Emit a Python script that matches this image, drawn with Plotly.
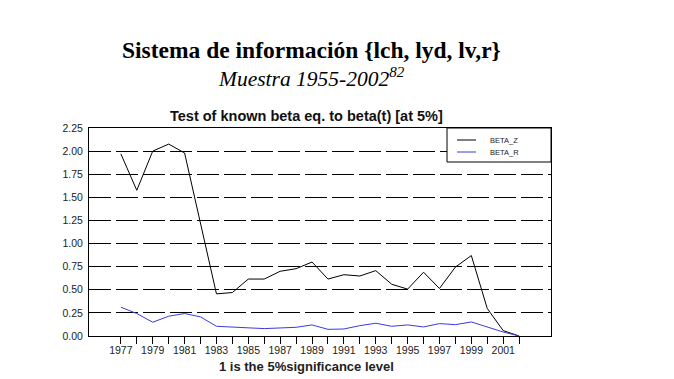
import plotly.graph_objects as go

years = list(range(1977, 2003))
beta_z = [1.97, 1.576, 2.00, 2.076, 1.98, 1.23, 0.456, 0.47, 0.616, 0.616, 0.70, 0.728, 0.80,
          0.616, 0.663, 0.649, 0.707, 0.56, 0.507, 0.69, 0.514, 0.746, 0.87, 0.297, 0.058, 0.0]
beta_r = [0.312, 0.243, 0.149, 0.214, 0.243, 0.207, 0.105, 0.094, 0.083, 0.080, 0.087, 0.094, 0.120,
          0.072, 0.076, 0.112, 0.138, 0.105, 0.120, 0.098, 0.134, 0.123, 0.152, 0.098, 0.043, 0.0]
x_ticklabels = [str(y) if y % 2 == 1 else "" for y in years]
y_ticks = [0.0, 0.25, 0.5, 0.75, 1.0, 1.25, 1.5, 1.75, 2.0, 2.25]
y_ticklabels = ["%.2f" % v for v in y_ticks]
series_names = ["BETA_Z", "BETA_R"]
series_colors = ["#000000", "#3a3ae0"]

W, H = 674, 379
L, R, T, B = 89, 123, 128, 43
pw, ph = W - L - R, H - T - B

def px(x):
    return (x - L) / pw

def py(y):
    return 1 - (y - T) / ph

fig = go.Figure()
for name, vals, col in zip(series_names, [beta_z, beta_r], series_colors):
    fig.add_trace(go.Scatter(x=years, y=vals, mode="lines", name=name,
                             line=dict(color=col, width=1), showlegend=False))

fig.update_layout(
    width=W, height=H, margin=dict(l=L, r=R, t=T, b=B, autoexpand=False),
    paper_bgcolor="white", plot_bgcolor="white",
    font=dict(family="Liberation Sans, Arial, sans-serif", color="#222"),
    xaxis=dict(range=[1975, 2004], tickmode="array", tickvals=years, ticktext=x_ticklabels,
               ticks="outside", ticklen=7, tickcolor="black", tickwidth=1, ticklabelstandoff=-3,
               showline=True, linecolor="black", linewidth=1, mirror=True,
               showgrid=False, zeroline=False, tickfont=dict(size=10.5, color="#222")),
    yaxis=dict(range=[0, 2.25], tickmode="array", tickvals=y_ticks, ticktext=y_ticklabels,
               ticks="", ticklabelstandoff=3, showline=True, linecolor="black", linewidth=1, mirror=True,
               showgrid=True, gridcolor="black", gridwidth=1, griddash="22px,5px",
               zeroline=False, tickfont=dict(size=10.5, color="#222")),
)

ann = []
ann.append(dict(text="<b>Sistema de información {lch, lyd, lv,r}</b>", x=px(311), y=py(50),
                xref="paper", yref="paper", showarrow=False, xanchor="center", yanchor="middle",
                font=dict(family="Liberation Serif, Times New Roman, serif", size=23.5, color="black")))
ann.append(dict(text="<i>Muestra 1955-2002<sup>82</sup></i>", x=px(311), y=py(77),
                xref="paper", yref="paper", showarrow=False, xanchor="center", yanchor="middle",
                font=dict(family="Liberation Serif, Times New Roman, serif", size=21.5, color="black")))
ann.append(dict(text="<b>Test of known beta eq. to beta(t) [at 5%]</b>", x=px(306), y=py(116),
                xref="paper", yref="paper", showarrow=False, xanchor="center", yanchor="middle",
                font=dict(size=14.5, color="#111")))
ann.append(dict(text="<b>1 is the 5%significance level</b>", x=px(306), y=py(366),
                xref="paper", yref="paper", showarrow=False, xanchor="center", yanchor="middle",
                font=dict(size=13, color="#222")))

# legend box
shapes = [dict(type="rect", xref="paper", yref="paper", x0=px(447), x1=px(551), y0=py(162), y1=py(128),
               fillcolor="white", line=dict(color="black", width=1), layer="above")]
for i, (name, col) in enumerate(zip(series_names, series_colors)):
    yy = 140 + 12 * i
    shapes.append(dict(type="line", xref="paper", yref="paper", x0=px(457), x1=px(476),
                       y0=py(yy), y1=py(yy), line=dict(color=col, width=1), layer="above"))
    ann.append(dict(text=name, x=px(488), y=py(yy), xref="paper", yref="paper", showarrow=False,
                    xanchor="left", yanchor="middle", font=dict(size=7.5, color="#222")))

fig.update_layout(annotations=ann, shapes=shapes)
fig.write_html("out.html", config={"displayModeBar": False},
               post_script="document.body.style.margin='0';")
